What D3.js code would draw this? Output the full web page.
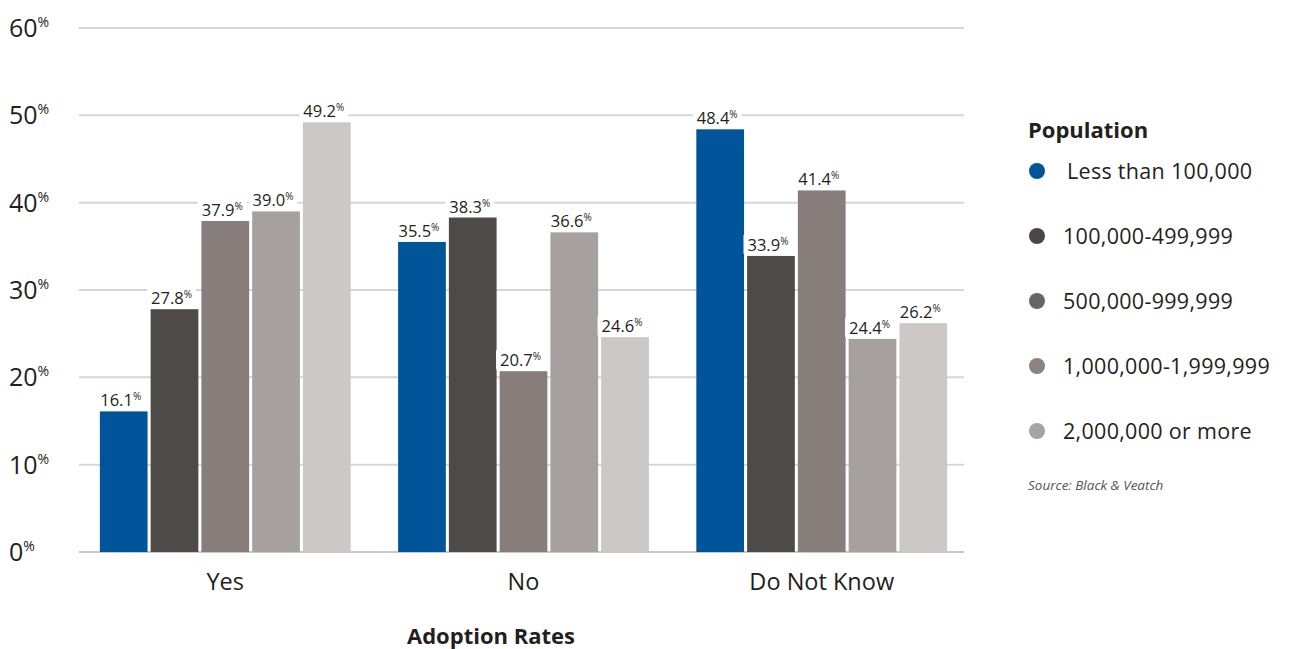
<!DOCTYPE html>
<html><head><meta charset="utf-8">
<script src="https://cdn.jsdelivr.net/npm/d3@7"></script>
<style>
html,body{margin:0;padding:0;background:#fff;}
svg{display:block;font-family:"Open Sans",sans-serif;}
</style></head>
<body>
<svg id="c" width="1292" height="649"></svg>
<script>
const categories = ["Yes", "No", "Do Not Know"];
const seriesNames = ["Less than 100,000", "100,000-499,999", "500,000-999,999", "1,000,000-1,999,999", "2,000,000 or more"];
const lessThan100k = [16.1, 35.5, 48.4];
const from100kTo500k = [27.8, 38.3, 33.9];
const from500kTo1m = [37.9, 20.7, 41.4];
const from1mTo2m = [39.0, 36.6, 24.4];
const over2m = [49.2, 24.6, 26.2];
const yTicks = [0, 10, 20, 30, 40, 50, 60];
const xAxisTitle = "Adoption Rates";
const legendTitle = "Population";
const sourceText = "Source: Black & Veatch";

const seriesValues = [lessThan100k, from100kTo500k, from500kTo1m, from1mTo2m, over2m];
const barColors = ["#00559a", "#4e4a47", "#877e7b", "#a6a19e", "#ccc8c5"];
const legendColors = ["#00559a", "#4c4744", "#6a6461", "#8a8380", "#a8a3a0"];

const svg = d3.select("#c");
const gridX0 = 79, gridX1 = 964;
const y = d3.scaleLinear().domain([0, 60]).range([552, 28]);
const x0 = d3.scaleBand().domain(categories).range([76, 971]).paddingInner(0.159).paddingOuter(0.08);
const x1 = d3.scaleBand().domain(d3.range(seriesNames.length)).range([0, x0.bandwidth()]).paddingInner(0.06).paddingOuter(0);

// gridlines
svg.append("g").selectAll("line").data(yTicks).join("line")
  .attr("x1", gridX0).attr("x2", gridX1)
  .attr("y1", d => y(d)).attr("y2", d => y(d))
  .attr("stroke", d => d === 0 ? "#c8c8c8" : "#d6d6d6").attr("stroke-width", 2);

// y labels
const yl = svg.append("g").selectAll("text").data(yTicks).join("text")
  .attr("x", 9).attr("y", d => y(d) + 9)
  .attr("font-size", 25).attr("font-weight", 400).attr("fill", "#231f20");
yl.append("tspan").text(d => d);
yl.append("tspan").attr("font-size", 14).attr("dy", -10).text("%");

// bars
const groups = svg.append("g").selectAll("g").data(categories).join("g")
  .attr("transform", d => `translate(${x0(d)},0)`);
const barData = (c, ci) => seriesValues.map((arr, si) => ({si, v: arr[ci]}));
groups.selectAll("rect").data((c, ci) => barData(c, ci)).join("rect")
  .attr("x", d => x1(d.si)).attr("width", x1.bandwidth())
  .attr("y", d => y(d.v)).attr("height", d => y(0) - y(d.v))
  .attr("fill", d => barColors[d.si]);

// value labels
const lg = groups.selectAll("g.lbl").data((c, ci) => barData(c, ci)).join("g").attr("class", "lbl");
lg.each(function(d) {
  const g = d3.select(this);
  const bg = g.append("rect").attr("fill", "#fff");
  const t = g.append("text")
    .attr("x", x1(d.si) + x1.bandwidth() / 2 - 3).attr("y", y(d.v) - 5)
    .attr("text-anchor", "middle").attr("font-size", 16.5).attr("font-weight", 400).attr("fill", "#231f20");
  t.append("tspan").text(d.v.toFixed(1));
  t.append("tspan").attr("font-size", 10).attr("dy", -6).text("%");
  const b = t.node().getBBox();
  bg.attr("x", b.x - 4).attr("y", b.y + 2).attr("width", b.width + 8).attr("height", b.height - 4);
});

// category labels
svg.append("g").selectAll("text").data(categories).join("text")
  .attr("x", d => x0(d) + x0.bandwidth() / 2).attr("y", 590)
  .attr("text-anchor", "middle").attr("font-size", 23.5).attr("font-weight", 400).attr("fill", "#231f20")
  .text(d => d);

svg.append("text").attr("x", 491).attr("y", 644).attr("text-anchor", "middle")
  .attr("font-size", 22).attr("font-weight", 700).attr("fill", "#231f20").text(xAxisTitle);

// legend
svg.append("text").attr("x", 1028).attr("y", 138).attr("font-size", 22).attr("font-weight", 700)
  .attr("fill", "#231f20").text(legendTitle);
const li = svg.append("g").selectAll("g").data(seriesNames).join("g")
  .attr("transform", (d, i) => `translate(1037,${171 + i * 65})`);
li.append("circle").attr("r", 8).attr("fill", (d, i) => legendColors[i]);
li.append("text").attr("x", (d, i) => i === 0 ? 30 : 26).attr("y", 8)
  .attr("font-size", 21.5).attr("letter-spacing", 0.3).attr("font-weight", 400).attr("fill", "#231f20").text(d => d);
svg.append("text").attr("x", 1028).attr("y", 490).attr("font-size", 13.5).attr("font-style", "italic")
  .attr("font-weight", 400).attr("fill", "#555").text(sourceText);
</script>
</body></html>
